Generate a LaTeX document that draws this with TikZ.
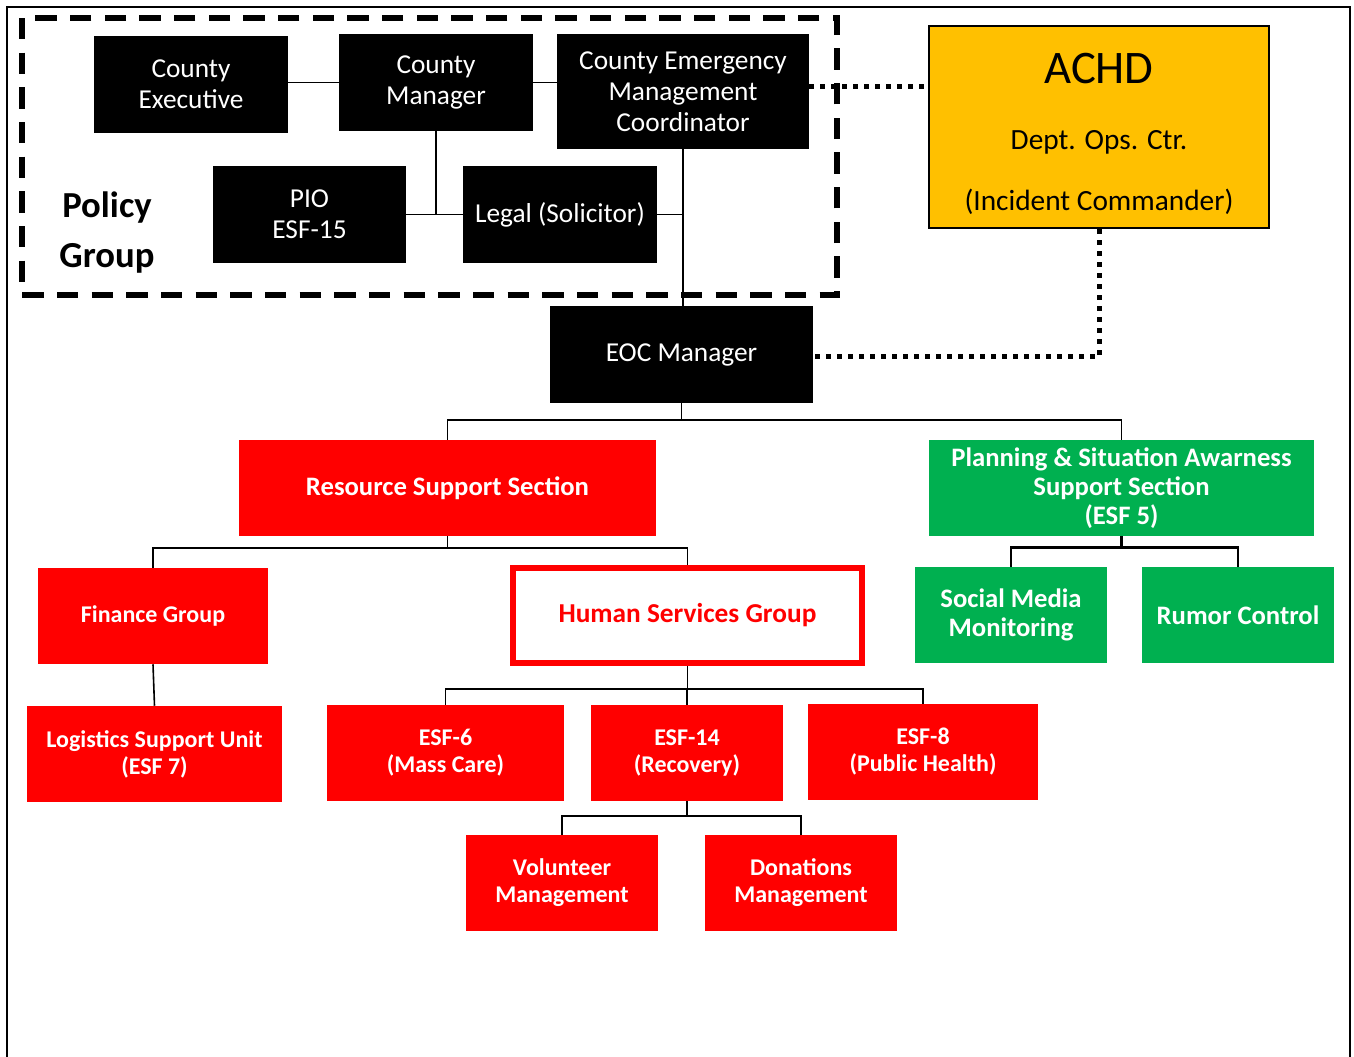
\documentclass[tikz,border=0pt]{standalone}
\usepackage{fontspec}
\setmainfont{Carlito}
\definecolor{esfgreen}{HTML}{00B050}
\definecolor{achdgold}{HTML}{FFC000}
\begin{document}
\begin{tikzpicture}[x=0.75pt,y=-0.75pt,
  blackbox/.style={fill=black,text=white,inner sep=0pt,align=center,font=\fontsize{20.5}{23.25}\selectfont},
  redbox/.style={fill=red,text=white,inner sep=0pt,align=center,font=\bfseries\fontsize{18}{20.25}\selectfont},
  greenbox/.style={fill=esfgreen,text=white,inner sep=0pt,align=center,font=\bfseries\fontsize{20}{21.75}\selectfont},
  link/.style={line width=1.2pt},
  dotlink/.style={line width=3.75pt,dash pattern=on 3.75pt off 4.5pt}]
\useasboundingbox (0,0) rectangle (1354,1057);

% Frame
\draw[line width=1.2pt] (7,1057) -- (7,7) -- (1350,7) -- (1350,1057);

% Policy group
\draw[line width=4pt,dash pattern=on 16pt off 10pt] (22,18) rectangle (837,295);
\node[align=center,font=\bfseries\fontsize{27.5}{37.5}\selectfont] (policy) at (107,233) {Policy\\Group};
\node[blackbox,minimum width=145.5pt,minimum height=72.75pt] (ce) at (191,84.5) {County\\Executive};
\node[blackbox,minimum width=145.5pt,minimum height=72.75pt] (cm) at (436,82.5) {County\\Manager};
\node[blackbox,minimum width=189pt,minimum height=86.25pt] (cemc) at (683,91.5) {County Emergency\\Management\\Coordinator};
\node[blackbox,minimum width=144.75pt,minimum height=72.75pt] (pio) at (309.5,214.5) {PIO\\ESF-15};
\node[blackbox,minimum width=145.5pt,minimum height=72.75pt] (legal) at (560,214.5) {Legal (Solicitor)};

% EOC and ACHD
\node[blackbox,minimum width=197.25pt,minimum height=72.75pt] (eoc) at (681.5,354.5) {EOC Manager};
\node[draw=black,line width=1.5pt,fill=achdgold,align=center,minimum width=255pt,minimum height=151.5pt,font=\fontsize{22}{24}\selectfont] (achd) at (1099,127)
  {\rule{0pt}{33pt}{\fontsize{35}{38}\selectfont ACHD}\\[25.5pt] Dept. Ops. Ctr.\\[22pt] (Incident Commander)};

% Sections
\node[redbox,minimum width=312.75pt,minimum height=72pt,font=\bfseries\fontsize{20}{22}\selectfont] (rss) at (447.5,488) {Resource Support Section};
\node[greenbox,minimum width=288.75pt,minimum height=72pt] (plan) at (1121.5,488) {Planning \& Situation Awarness\\Support Section\\(ESF 5)};
\node[redbox,minimum width=172.5pt,minimum height=72pt] (fin) at (153,616) {Finance Group};
\node[draw=red,line width=4.5pt,fill=white,text=red,inner sep=0pt,minimum width=261.75pt,minimum height=71.25pt,font=\bfseries\fontsize{20.5}{22}\selectfont] (hsg) at (687.5,615.5) {Human Services Group};
\node[greenbox,minimum width=144pt,minimum height=72pt] (sm) at (1011,615) {Social Media\\Monitoring};
\node[greenbox,minimum width=144pt,minimum height=72pt] (rc) at (1238,615) {Rumor Control};

% Units
\node[redbox,minimum width=191.25pt,minimum height=72pt] (log) at (154.5,754) {Logistics Support Unit\\(ESF 7)};
\node[redbox,minimum width=177.75pt,minimum height=72pt] (esfsix) at (445.5,753) {ESF-6\\(Mass Care)};
\node[redbox,minimum width=144pt,minimum height=72pt] (esffourteen) at (687,753) {ESF-14\\(Recovery)};
\node[redbox,minimum width=172.5pt,minimum height=72pt] (esfeight) at (923,752) {ESF-8\\(Public Health)};
\node[redbox,minimum width=144pt,minimum height=72pt] (vol) at (562,883) {Volunteer\\Management};
\node[redbox,minimum width=144pt,minimum height=72pt] (don) at (801,883) {Donations\\Management};

% Policy group links
\draw[link] (cm.west) -- (cm.west -| ce.east);
\draw[link] (cm.east) -- (cm.east -| cemc.west);
\draw[link] (cm.south) -- (cm.south |- pio.east);
\draw[link] (pio.east) -- (legal.west);
\draw[link] (legal.east) -- (legal.east -| cemc.south);
\draw[link] (cemc.south) -- (cemc.south |- eoc.north);

% Dotted links to ACHD
\draw[dotlink] ([yshift=3.4pt]cemc.east) -- ([yshift=3.4pt]cemc.east -| achd.west);
\draw[dotlink] (achd.south) |- ([yshift=-1.5pt]eoc.east);

% Tree
\draw[link] (eoc.south) -- ++(0,17) -| (rss.north);
\draw[link] (eoc.south) ++(0,17) -| (plan.north);
\draw[link] (rss.south) -- ++(0,12) -| (fin.north);
\draw[link] (rss.south) ++(0,12) -| (hsg.north);
\draw[link] (fin.south) -- (log.north);
\draw[link] (hsg.south) -- ++(0,23) -| (esfsix.north);
\draw[link] (hsg.south) ++(0,23) -| (esffourteen.north);
\draw[link] (hsg.south) ++(0,23) -| (esfeight.north);
\draw[link] (esffourteen.south) -- ++(0,15) -| (vol.north);
\draw[link] (esffourteen.south) ++(0,15) -| (don.north);
\draw[line width=2pt] (plan.south) -- ++(0,11) -| (sm.north);
\draw[line width=2pt] (plan.south) ++(0,11) -| (rc.north);
\end{tikzpicture}
\end{document}
